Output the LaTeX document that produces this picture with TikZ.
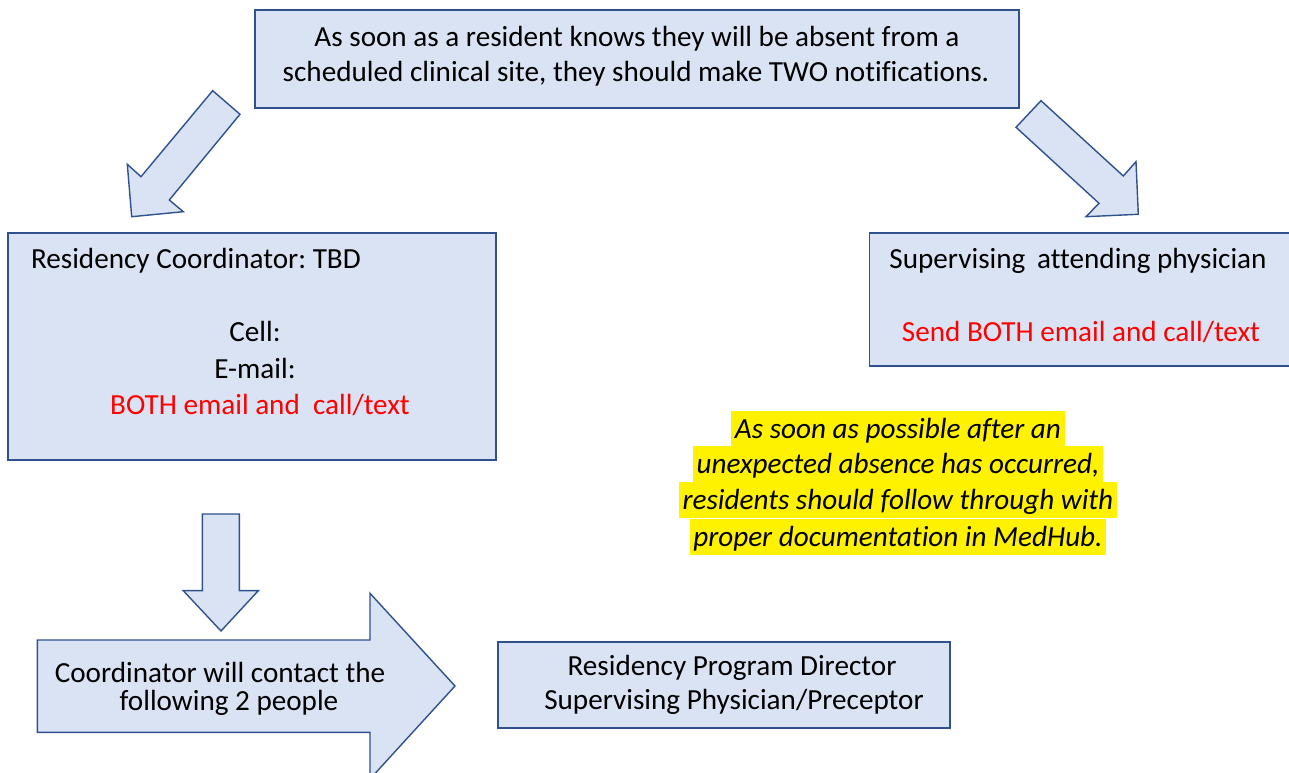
\documentclass[tikz,border=0pt]{standalone}
\usepackage{fontspec}
\setmainfont{Carlito}[Ligatures=NoCommon]
\frenchspacing
\definecolor{relleno}{HTML}{DAE3F3}
\definecolor{borde}{HTML}{2F528F}
\tikzset{
caja/.style={draw=borde,fill=relleno,line width=0.8pt,inner sep=0pt},
flecha/.style={draw=borde,fill=relleno,line width=0.8pt,line join=miter},
texto/.style={font=\fontsize{16.6}{20}\selectfont,inner sep=0pt,anchor=base},
rojo/.style={texto,text=red},
resaltado/.style={texto,font=\fontsize{16.6}{20}\selectfont\itshape,fill=yellow,
  inner xsep=2pt,text height=0.56cm,text depth=0.16cm}
}

\begin{document}
\begin{tikzpicture}[x=0.02cm,y=-0.02cm]
    \useasboundingbox (0,0) rectangle (1289,773);

    % cajas
    \node[caja,minimum width=15.28cm,minimum height=1.96cm] (aviso) at (637,59) {};
    \node[caja,minimum width=9.76cm,minimum height=4.54cm] (coordinador) at (252,346.5) {};
    \node[caja,minimum width=8.62cm,minimum height=2.66cm] (supervisor) at (1085,299.5) {};
    \node[caja,minimum width=9.04cm,minimum height=1.72cm] (contactos) at (724,685) {};

    % flechas
    \draw[flecha] (212.7,90.7) -- (240,114.3) -- (169.3,200) -- (183.3,211.7)
        -- (131.7,216.7) -- (127.3,164.3) -- (141,176.7) -- cycle;
    \draw[flecha] (1041,100.7) -- (1123.3,176) -- (1136,161.7) -- (1138.3,214.3)
        -- (1086,216.7) -- (1099,203.3) -- (1016,127.3) -- cycle;
    \draw[flecha] (202.3,514) -- (239.3,514) -- (239.3,590.7) -- (258.3,590.7)
        -- (221,631) -- (183.3,590.7) -- (202.3,590.7) -- cycle;
    \draw[flecha] (37.3,640) -- (370,640) -- (370,593.3) -- (455,686)
        -- (370,779) -- (370,732.3) -- (37.3,732.3) -- cycle;

    % textos
    \node[texto] (aviso1) at (637,46.7) {As soon as a resident knows they will be absent from a};
    \node[texto] (aviso2) at (636,81.7) {scheduled clinical site, they should make TWO notifications.};

    \node[texto,anchor=base west] (coord1) at (30.7,269) {Residency Coordinator: TBD};
    \node[texto] (celda) at (255,341.7) {Cell:};
    \node[texto] (correo) at (255,378.3) {E-mail:};
    \node[rojo] (ambos) at (260,414.3) {BOTH email and\ \ call/text};

    \node[texto] (super1) at (1078,268.3) {Supervising\hspace{0.4em}attending physician};
    \node[rojo] (super2) at (1081,341.7) {Send BOTH email and call/text};

    \node[resaltado] (nota1) at (898,439) {As soon as possible after an};
    \node[resaltado] (nota2) at (898,474) {unexpected absence has occurred,};
    \node[resaltado] (nota3) at (898,510) {residents should follow through with};
    \node[resaltado] (nota4) at (898,546.7) {proper documentation in MedHub.};

    \node[texto] (llamada1) at (220,682.7) {Coordinator will contact the};
    \node[texto] (llamada2) at (229,710) {following 2 people};

    \node[texto] (contacto1) at (732,675.3) {Residency Program Director};
    \node[texto] (contacto2) at (734,709) {Supervising Physician/Preceptor};
\end{tikzpicture}
\end{document}
